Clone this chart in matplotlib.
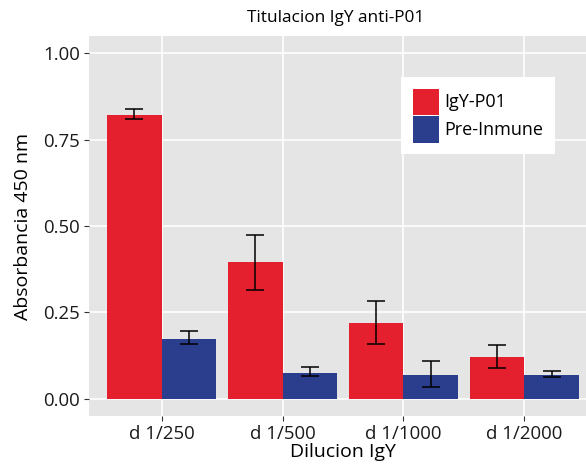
import matplotlib
matplotlib.use("Agg")
import matplotlib.pyplot as plt
from matplotlib.patches import Patch
import numpy as np

categories = ["d 1/250", "d 1/500", "d 1/1000", "d 1/2000"]
series_names = ["IgY-P01", "Pre-Inmune"]
igy_vals = [0.822, 0.395, 0.220, 0.122]
igy_lo = [0.810, 0.315, 0.157, 0.090]
igy_hi = [0.838, 0.475, 0.282, 0.155]
pre_vals = [0.173, 0.075, 0.070, 0.070]
pre_lo = [0.158, 0.065, 0.035, 0.063]
pre_hi = [0.195, 0.093, 0.108, 0.080]
y_ticks = [0.00, 0.25, 0.50, 0.75, 1.00]
y_ticklabels = ["0.00", "0.25", "0.50", "0.75", "1.00"]

RED = "#E4202F"
BLUE = "#2B3D8D"
FONT = ["Open Sans", "DejaVu Sans"]
plt.rcParams["font.family"] = FONT

W, H = 586, 470
fig = plt.figure(figsize=(W / 100, H / 100), dpi=100)
left, right, top, bottom = 89, 597, 36, 416
ax = fig.add_axes([left / W, 1 - bottom / H, (right - left) / W, (bottom - top) / H])
ax.set_facecolor("#E5E5E5")

x = np.arange(len(categories))
bw = 0.45
groups = [(igy_vals, igy_lo, igy_hi, RED, -bw / 2), (pre_vals, pre_lo, pre_hi, BLUE, bw / 2)]
for vals, lo, hi, col, off in groups:
    xs = x + off
    ax.bar(xs, vals, width=bw, color=col, zorder=2)
    vals_a = np.array(vals)
    yerr = np.vstack([vals_a - np.array(lo), np.array(hi) - vals_a])
    ax.errorbar(xs, vals, yerr=yerr, fmt="none", ecolor="black", elinewidth=1.1,
                capsize=6.8, capthick=1.1, zorder=3)

ax.set_xlim(-0.6, 3.6)
ax.set_ylim(-0.05, 1.05)
ax.set_xticks(x)
ax.set_xticklabels(categories, fontsize=13.4, color="#1a1a1a")
ax.set_yticks(y_ticks)
ax.set_yticklabels(y_ticklabels, fontsize=13.4, color="#1a1a1a")
ax.grid(True, color="white", linewidth=1.2, zorder=0)
ax.set_axisbelow(True)
for s in ax.spines.values():
    s.set_visible(False)
ax.tick_params(axis="both", length=3.5, width=0.8, color="#333333", pad=3)

ax.set_xlabel("Dilucion IgY", fontsize=14, labelpad=0)
ax.set_ylabel("Absorbancia 450 nm", fontsize=14, labelpad=8)
fig.text((89 + 582) / 2 / W, 1 - 18 / H, "Titulacion IgY anti-P01", ha="center", va="center",
         fontsize=12.4)

handles = [Patch(facecolor=RED, edgecolor="none"), Patch(facecolor=BLUE, edgecolor="none")]
leg = fig.legend(handles, series_names, loc="upper left",
                 bbox_to_anchor=(401 / W, 1 - 77 / H), bbox_transform=fig.transFigure,
                 borderaxespad=0,
                 frameon=True, fancybox=False, edgecolor="none", facecolor="white",
                 fontsize=13, handlelength=1.45, handleheight=1.85, handletextpad=0.33,
                 labelspacing=0.1, borderpad=0.64, framealpha=1)

fig.savefig("out.png", dpi=100)
